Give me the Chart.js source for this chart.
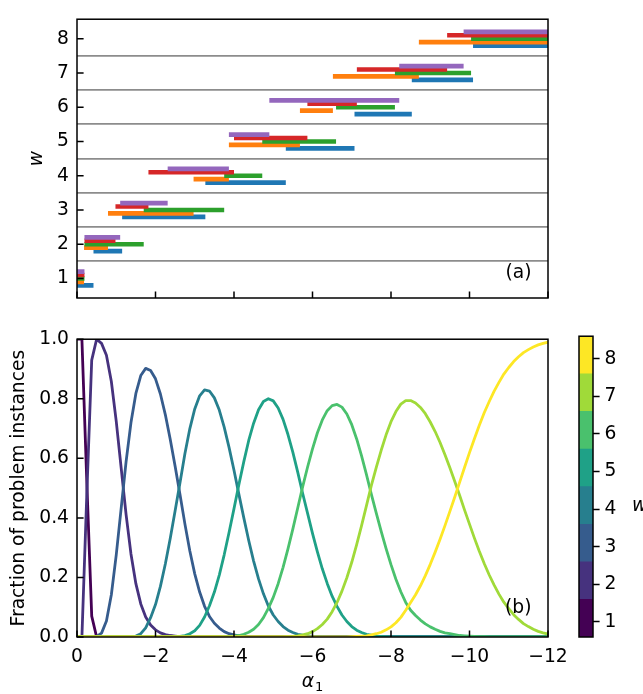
<!DOCTYPE html>
<html><head><meta charset="utf-8">
<script src="https://cdn.jsdelivr.net/npm/chart.js@4.4.1/dist/chart.umd.min.js"></script>
<style>
html,body{margin:0;padding:0;background:#fff;width:643px;height:694px;overflow:hidden}
canvas{position:absolute}
#top{left:0;top:0}
#bot{left:0;top:320px}
#cb{left:560px;top:320px}
</style></head><body>
<canvas id="top" width="643" height="320"></canvas>
<canvas id="bot" width="643" height="374"></canvas>
<canvas id="cb" width="83" height="374"></canvas>
<script>
// ---------- data ----------
const wLevels = [1, 2, 3, 4, 5, 6, 7, 8];
const gridLevels = [1.5, 2.5, 3.5, 4.5, 5.5, 6.5, 7.5];
const alphaTicks = [0, -2, -4, -6, -8, -10, -12];
const fracTicks = [0, 0.2, 0.4, 0.6, 0.8, 1.0];
// colorbar colour-band edges
const cbEdges = [0.6, 1.6, 2.6, 3.6, 4.6, 5.6, 6.6, 7.6, 8.6];

// panel (a): interval edges along alpha_1 for w = 1..8 (bar w spans edges[w-1] .. edges[w])
const blueEdges   = [0, -0.42, -1.15, -3.27, -5.32, -7.07, -8.53, -10.09, -12];
const orangeEdges = [0, -0.18, -0.79, -2.97, -3.87, -5.68, -6.52, -8.71, -12];
const greenEdges  = [0, -0.19, -1.70, -3.75, -4.72, -6.60, -8.10, -10.04, -12];
const redEdges    = [0, -0.19, -0.98, -1.82, -4.00, -5.87, -7.13, -9.43, -12];
const purpleEdges = [0, -0.19, -1.10, -2.31, -3.87, -4.90, -8.21, -9.85, -12];

// panel (b): fraction of problem instances vs alpha_1
const alphaGrid = [
0,-0.125,-0.25,-0.375,-0.5,-0.625,-0.75,-0.875,-1,-1.125,
-1.25,-1.375,-1.5,-1.625,-1.75,-1.875,-2,-2.125,-2.25,-2.375,
-2.5,-2.625,-2.75,-2.875,-3,-3.125,-3.25,-3.375,-3.5,-3.625,
-3.75,-3.875,-4,-4.125,-4.25,-4.375,-4.5,-4.625,-4.75,-4.875,
-5,-5.125,-5.25,-5.375,-5.5,-5.625,-5.75,-5.875,-6,-6.125,
-6.25,-6.375,-6.5,-6.625,-6.75,-6.875,-7,-7.125,-7.25,-7.375,
-7.5,-7.625,-7.75,-7.875,-8,-8.125,-8.25,-8.375,-8.5,-8.625,
-8.75,-8.875,-9,-9.125,-9.25,-9.375,-9.5,-9.625,-9.75,-9.875,
-10,-10.125,-10.25,-10.375,-10.5,-10.625,-10.75,-10.875,-11,-11.125,
-11.25,-11.375,-11.5,-11.625,-11.75,-11.875,-12];

const frac1 = [
1,1,0.52,0.07,0,0,0,0,0,0,
0,0,0,0,0,0,0,0,0,0,
0,0,0,0,0,0,0,0,0,0,
0,0,0,0,0,0,0,0,0,0,
0,0,0,0,0,0,0,0,0,0,
0,0,0,0,0,0,0,0,0,0,
0,0,0,0,0,0,0,0,0,0,
0,0,0,0,0,0,0,0,0,0,
0,0,0,0,0,0,0,0,0,0,
0,0,0,0,0,0,0];
const frac2 = [
0,0,0.48,0.93,1.0,0.986,0.946,0.858,0.724,0.568,
0.412,0.279,0.179,0.111,0.067,0.040,0.024,0.014,0.008,0.005,
0.003,0.001,0,0,0,0,0,0,0,0,
0,0,0,0,0,0,0,0,0,0,
0,0,0,0,0,0,0,0,0,0,
0,0,0,0,0,0,0,0,0,0,
0,0,0,0,0,0,0,0,0,0,
0,0,0,0,0,0,0,0,0,0,
0,0,0,0,0,0,0,0,0,0,
0,0,0,0,0,0,0];
const frac3 = [
0,0,0,0,0.002,0.013,0.054,0.142,0.276,0.432,
0.588,0.720,0.818,0.878,0.902,0.895,0.867,0.816,0.747,0.664,
0.573,0.478,0.379,0.289,0.212,0.151,0.103,0.069,0.046,0.030,
0.018,0.011,0.007,0.004,0.002,0.001,0,0,0,0,
0,0,0,0,0,0,0,0,0,0,
0,0,0,0,0,0,0,0,0,0,
0,0,0,0,0,0,0,0,0,0,
0,0,0,0,0,0,0,0,0,0,
0,0,0,0,0,0,0,0,0,0,
0,0,0,0,0,0,0];
const frac4 = [
0,0,0,0,0,0,0,0,0,0,
0,0.001,0.003,0.011,0.031,0.065,0.109,0.170,0.245,0.331,
0.424,0.519,0.616,0.700,0.766,0.810,0.830,0.826,0.803,0.762,
0.705,0.636,0.560,0.479,0.400,0.324,0.255,0.195,0.145,0.104,
0.074,0.052,0.035,0.023,0.015,0.009,0.006,0.004,0.002,0.001,
0.001,0,0,0,0,0,0,0,0,0,
0,0,0,0,0,0,0,0,0,0,
0,0,0,0,0,0,0,0,0,0,
0,0,0,0,0,0,0,0,0,0,
0,0,0,0,0,0,0];
const frac5 = [
0,0,0,0,0,0,0,0,0,0,
0,0,0,0,0,0,0,0,0,0,
0.001,0.002,0.005,0.011,0.021,0.039,0.067,0.105,0.151,0.208,
0.276,0.352,0.431,0.512,0.589,0.660,0.718,0.763,0.791,0.800,
0.793,0.769,0.731,0.680,0.620,0.553,0.482,0.415,0.348,0.286,
0.229,0.180,0.137,0.103,0.074,0.052,0.035,0.023,0.015,0.009,
0.006,0.003,0.002,0.001,0,0,0,0,0,0,
0,0,0,0,0,0,0,0,0,0,
0,0,0,0,0,0,0,0,0,0,
0,0,0,0,0,0,0];
const frac6 = [
0,0,0,0,0,0,0,0,0,0,
0,0,0,0,0,0,0,0,0,0,
0,0,0,0,0,0,0,0,0,0,
0.001,0.001,0.003,0.005,0.009,0.016,0.026,0.042,0.065,0.096,
0.133,0.179,0.234,0.296,0.363,0.434,0.505,0.571,0.632,0.686,
0.729,0.760,0.777,0.781,0.772,0.749,0.713,0.665,0.608,0.545,
0.479,0.416,0.355,0.297,0.243,0.194,0.152,0.116,0.090,0.072,
0.057,0.044,0.034,0.026,0.019,0.014,0.011,0.008,0.005,0.004,
0.003,0.002,0.001,0.001,0,0,0,0,0,0,
0,0,0,0,0,0,0];
const frac7 = [
0,0,0,0,0,0,0,0,0,0,
0,0,0,0,0,0,0,0,0,0,
0,0,0,0,0,0,0,0,0,0,
0,0,0,0,0,0,0,0,0,0,
0,0,0,0.001,0.002,0.004,0.007,0.011,0.018,0.028,
0.042,0.060,0.085,0.116,0.154,0.199,0.251,0.310,0.374,0.441,
0.509,0.570,0.627,0.679,0.723,0.757,0.782,0.794,0.794,0.786,
0.771,0.750,0.722,0.690,0.653,0.612,0.568,0.522,0.475,0.426,
0.379,0.332,0.288,0.247,0.209,0.175,0.144,0.117,0.095,0.075,
0.059,0.045,0.035,0.026,0.019,0.014,0.010];
const frac8 = [
0,0,0,0,0,0,0,0,0,0,
0,0,0,0,0,0,0,0,0,0,
0,0,0,0,0,0,0,0,0,0,
0,0,0,0,0,0,0,0,0,0,
0,0,0,0,0,0,0,0,0,0,
0,0,0,0,0,0,0.001,0.002,0.003,0.004,
0.007,0.011,0.016,0.024,0.034,0.048,0.066,0.090,0.116,0.142,
0.172,0.206,0.244,0.285,0.328,0.374,0.422,0.470,0.520,0.570,
0.619,0.666,0.711,0.753,0.790,0.825,0.855,0.883,0.905,0.925,
0.941,0.955,0.965,0.974,0.981,0.986,0.990];

// ---------- styles ----------
const FONT = "'DejaVu Sans', 'Liberation Sans', sans-serif";
const FS = 18.7;
Chart.defaults.font.family = FONT;
Chart.defaults.font.size = FS;
Chart.defaults.color = '#000';
Chart.defaults.animation = false;

const viridis8 = ['#440154','#46327e','#365c8d','#277f8e','#1fa187','#4ac16d','#a0da39','#fde725'];
const barStyles = [
  {edges: blueEdges,   color: '#1f77b4', off: -0.2},
  {edges: orangeEdges, color: '#ff7f0e', off: -0.1},
  {edges: greenEdges,  color: '#2ca02c', off: 0.0},
  {edges: redEdges,    color: '#d62728', off: 0.1},
  {edges: purpleEdges, color: '#9467bd', off: 0.2}
];
const fmtAlpha = v => v === 0 ? '0' : (v < 0 ? '\u2212' + Math.abs(v) : String(v));

// ---------- decoration plugin (inward ticks, frame, labels) ----------
const deco = {
  id: 'deco',
  afterDatasetsDraw(chart, args, o) {
    const {ctx, chartArea: a} = chart;
    ctx.save();
    ctx.strokeStyle = '#000';
    ctx.lineWidth = 1.5;
    if (o.ticks) {
      const xs = chart.scales.x, ys = chart.scales.y;
      ctx.beginPath();
      xs.ticks.forEach(t => { const p = xs.getPixelForValue(t.value); ctx.moveTo(p, a.bottom); ctx.lineTo(p, a.bottom - 6.6); });
      ys.ticks.forEach(t => { const p = ys.getPixelForValue(t.value); ctx.moveTo(a.left, p); ctx.lineTo(a.left + 6.6, p); });
      ctx.stroke();
    }
    ctx.strokeRect(a.left, a.top, a.right - a.left, a.bottom - a.top);
    ctx.fillStyle = '#000';
    if (o.label) {
      ctx.font = FS + 'px ' + FONT;
      ctx.textAlign = 'right';
      ctx.textBaseline = 'alphabetic';
      ctx.fillText(o.label, a.right - 16.5, a.bottom - o.labelDy);
    }
    if (o.alphaTitle) {
      ctx.font = 'italic ' + FS + 'px ' + FONT;
      const wa = ctx.measureText('\u03b1').width;
      ctx.font = '13px ' + FONT;
      const w1 = ctx.measureText('1').width;
      const x0 = (a.left + a.right) / 2 - (wa + 1 + w1) / 2;
      ctx.textAlign = 'left';
      ctx.textBaseline = 'alphabetic';
      ctx.font = 'italic ' + FS + 'px ' + FONT;
      ctx.fillText('\u03b1', x0, a.bottom + 50);
      ctx.font = '13px ' + FONT;
      ctx.fillText('1', x0 + wa + 1, a.bottom + 54);
    }
    if (o.cbTitle) {
      ctx.font = 'italic ' + FS + 'px ' + FONT;
      ctx.textAlign = 'left';
      ctx.textBaseline = 'alphabetic';
      ctx.fillText('w', a.right + 39, (a.top + a.bottom) / 2 + 24);
    }
    ctx.restore();
  }
};

// ---------- panel (a) ----------
const topDatasets = [];
barStyles.forEach((s, si) => {
  wLevels.forEach((w, i) => {
    topDatasets.push({
      data: [{x: s.edges[i], y: w + s.off}, {x: s.edges[i + 1], y: w + s.off}],
      borderColor: s.color, backgroundColor: s.color,
      borderWidth: 4.6, borderCapStyle: 'butt', pointRadius: 0,
      showLine: true, fill: false, tension: 0, order: 4 - si,
      xAxisID: 'x', yAxisID: 'y'
    });
  });
});

new Chart(document.getElementById('top'), {
  type: 'scatter',
  data: {datasets: topDatasets},
  options: {
    responsive: false, devicePixelRatio: 1, animation: false,
    layout: {padding: {left: 0, top: 7, right: 95, bottom: 0}},
    plugins: {legend: {display: false}, tooltip: {enabled: false},
      deco: {ticks: true, label: '(a)', labelDy: 20.5}},
    scales: {
      x: {type: 'linear', min: -12, max: 0, reverse: true,
        afterBuildTicks: s => { s.ticks = alphaTicks.map(v => ({value: v})); },
        ticks: {display: false}, grid: {display: false, drawTicks: false}, border: {display: false},
        afterFit: s => { s.height = 22; }},
      y: {type: 'linear', position: 'left', min: 0.43, max: 8.57,
        afterBuildTicks: s => { s.ticks = wLevels.map(v => ({value: v})); },
        ticks: {padding: 8, font: {size: FS}},
        grid: {display: false, drawTicks: false}, border: {display: false},
        title: {display: true, text: 'w', font: {size: FS, style: 'italic'}, padding: {top: 26, bottom: 0}},
        afterFit: s => { s.width = 77; }},
      yg: {type: 'linear', position: 'left', min: 0.43, max: 8.57,
        afterBuildTicks: s => { s.ticks = gridLevels.map(v => ({value: v})); },
        ticks: {display: false},
        grid: {color: '#8c8c8c', lineWidth: 1.8, drawTicks: false}, border: {display: false},
        afterFit: s => { s.width = 0; }}
    }
  },
  plugins: [deco]
});

// ---------- panel (b) ----------
const fracSeries = [frac1, frac2, frac3, frac4, frac5, frac6, frac7, frac8];
const botDatasets = fracSeries.map((arr, i) => ({
  data: alphaGrid.map((a, k) => ({x: a, y: arr[k]})),
  borderColor: viridis8[i], backgroundColor: viridis8[i],
  borderWidth: 2.8, pointRadius: 0, fill: false, tension: 0,
  borderJoinStyle: 'round', borderCapStyle: 'butt',
  order: 7 - i
}));

new Chart(document.getElementById('bot'), {
  type: 'line',
  data: {datasets: botDatasets},
  options: {
    responsive: false, devicePixelRatio: 1, animation: false,
    layout: {padding: {left: 0, top: 15, right: 95, bottom: 0}},
    plugins: {legend: {display: false}, tooltip: {enabled: false},
      deco: {ticks: true, label: '(b)', labelDy: 24, alphaTitle: true}},
    scales: {
      x: {type: 'linear', min: -12, max: 0, reverse: true,
        afterBuildTicks: s => { s.ticks = alphaTicks.map(v => ({value: v})); },
        ticks: {padding: 9, maxRotation: 0, callback: fmtAlpha, font: {size: FS}},
        grid: {display: false, drawTicks: false}, border: {display: false},
        afterFit: s => { s.height = 57; }},
      y: {type: 'linear', min: 0, max: 1,
        afterBuildTicks: s => { s.ticks = fracTicks.map(v => ({value: v})); },
        ticks: {padding: 8, callback: v => Number(v).toFixed(1), font: {size: FS}},
        grid: {display: false, drawTicks: false}, border: {display: false},
        title: {display: true, text: 'Fraction of problem instances', font: {size: FS}, padding: {top: 8, bottom: 0}},
        afterFit: s => { s.width = 77; }}
    }
  },
  plugins: [deco]
});

// ---------- colorbar ----------
new Chart(document.getElementById('cb'), {
  type: 'bar',
  data: {labels: [''], datasets: wLevels.map((w, i) => ({
    data: [[cbEdges[i], cbEdges[i + 1]]], backgroundColor: viridis8[i], borderWidth: 0,
    barPercentage: 1, categoryPercentage: 1, grouped: false
  }))},
  options: {
    responsive: false, devicePixelRatio: 1, animation: false,
    layout: {padding: {left: 19, top: 15, right: 0, bottom: 57}},
    plugins: {legend: {display: false}, tooltip: {enabled: false}, deco: {ticks: false, cbTitle: true}},
    scales: {
      x: {display: false},
      y: {position: 'right', min: cbEdges[0], max: cbEdges[cbEdges.length - 1],
        afterBuildTicks: s => { s.ticks = wLevels.map(v => ({value: v})); },
        ticks: {padding: 5, font: {size: FS}},
        grid: {drawOnChartArea: false, drawTicks: true, tickLength: 6.6, tickWidth: 1.5, tickColor: '#000'},
        border: {display: false},
        afterFit: s => { s.width = 50; }}
    }
  },
  plugins: [deco]
});
</script>
</body></html>
